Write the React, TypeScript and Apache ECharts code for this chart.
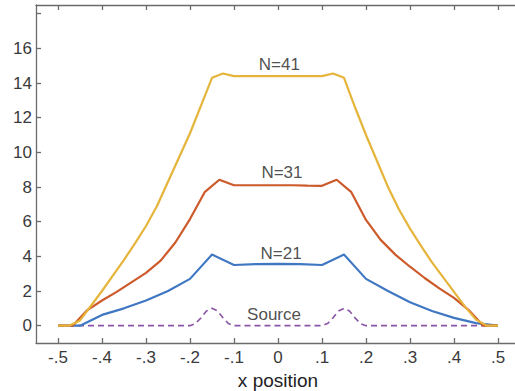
import React, { useEffect, useRef } from "react";
import * as echarts from "echarts";

// Tick values
const xTicks = [-0.5, -0.4, -0.3, -0.2, -0.1, 0, 0.1, 0.2, 0.3, 0.4, 0.5];
const yTicks = [0, 2, 4, 6, 8, 10, 12, 14, 16, 18];
const yLabels = [0, 2, 4, 6, 8, 10, 12, 14, 16];

// Series values, on uniform grids over [-0.5, 0.5]
const n21 = [0, 0, 0.62, 1.0, 1.45, 2.0, 2.7, 4.1, 3.5, 3.55, 3.57, 3.55, 3.5, 4.1, 2.7, 2.0, 1.35, 0.85, 0.45, 0.15, 0];
const n31 = [0, 0, 0.9, 1.45, 1.95, 2.5, 3.05, 3.75, 4.8, 6.15, 7.7, 8.42, 8.1, 8.1, 8.1, 8.1, 8.1, 8.08, 8.07, 8.42, 7.7, 6.1, 4.95, 4.1, 3.4, 2.75, 2.15, 1.6, 0.9, 0, 0];
const n41 = [0, 0, 0.3, 1.15, 2.0, 2.9, 3.8, 4.75, 5.75, 6.9, 8.3, 9.7, 11.1, 12.7, 14.3, 14.55, 14.4, 14.4, 14.4, 14.4, 14.4, 14.4, 14.4, 14.4, 14.4, 14.55, 14.3, 12.6, 11.0, 9.5, 8.0, 6.7, 5.6, 4.6, 3.65, 2.8, 1.95, 1.1, 0.35, 0, 0];
const sourceX = [-0.5, -0.2, -0.1875, -0.175, -0.1625, -0.15, -0.1375, -0.125, -0.1125, -0.1, 0.1, 0.1125, 0.125, 0.1375, 0.15, 0.1625, 0.175, 0.1875, 0.2, 0.5];
const sourceY = [0, 0, 0.12, 0.45, 0.85, 1.0, 0.85, 0.45, 0.12, 0, 0, 0.12, 0.45, 0.85, 1.0, 0.85, 0.45, 0.12, 0, 0];

// Curve annotations
const labelTexts = ["N=41", "N=31", "N=21", "Source"];
const labelX = [0.003, 0.009, 0.007, -0.009];
const labelY = [15.09, 8.81, 4.16, 0.64];

const colors = { n21: "#3f77c3", n31: "#cc5a2b", n41: "#e5b43a", src: "#8a55a6" };

const grid = (vals: number[]) => vals.map((v, i) => [-0.5 + i / (vals.length - 1), v]);

const fmtX = (v: number) => {
  if (Math.abs(v) < 1e-9) return "0";
  return (v < 0 ? "-" : "") + "." + Math.round(Math.abs(v) * 10);
};

const FONT = "'Liberation Sans', Arial, Helvetica, sans-serif";
const AXIS_COLOR = "#6b6b6b";

export default function App() {
  const ref = useRef<HTMLDivElement>(null);
  useEffect(() => {
    if (!ref.current) return;
    const chart = echarts.init(ref.current, undefined, { renderer: "svg" });
    const xCommon = {
      type: "value",
      min: -0.55,
      max: 0.55,
      splitLine: { show: false },
      axisLine: { show: true, onZero: false, lineStyle: { color: AXIS_COLOR, width: 1.3 } },
      axisTick: { show: true, inside: true, length: 5, customValues: xTicks, lineStyle: { color: AXIS_COLOR, width: 1.3 } },
    };
    const yCommon = {
      type: "value",
      min: -1,
      max: 18.5,
      splitLine: { show: false },
      axisLine: { show: true, onZero: false, lineStyle: { color: AXIS_COLOR, width: 1.3 } },
      axisTick: { show: true, inside: true, length: 5, customValues: yTicks, lineStyle: { color: AXIS_COLOR, width: 1.3 } },
    };
    chart.setOption({
      animation: false,
      textStyle: { fontFamily: FONT },
      grid: { left: 36, right: -5, top: 5, bottom: 48, containLabel: false, outerBoundsMode: "none" },
      xAxis: [
        {
          ...xCommon,
          position: "bottom",
          name: "x position",
          nameLocation: "middle",
          nameGap: 22,
          nameTextStyle: { fontSize: 19, color: "#222", fontFamily: FONT },
          axisLabel: { show: true, customValues: xTicks, formatter: fmtX, fontSize: 17, color: "#3a3a3a", margin: 6, fontFamily: FONT },
        },
        { ...xCommon, position: "top", axisLabel: { show: false } },
      ],
      yAxis: [
        {
          ...yCommon,
          position: "left",
          axisLabel: { show: true, customValues: yLabels, fontSize: 17, color: "#3a3a3a", margin: 4, fontFamily: FONT },
        },
        { ...yCommon, position: "right", axisLabel: { show: false } },
      ],
      series: [
        {
          name: "Source",
          type: "line",
          data: sourceX.map((x, i) => [x, sourceY[i]]),
          showSymbol: false,
          lineStyle: { color: colors.src, width: 1.6, type: [6, 4] },
          z: 2,
        },
        {
          name: "N=21",
          type: "line",
          data: grid(n21),
          showSymbol: false,
          lineStyle: { color: colors.n21, width: 2.2 },
          z: 3,
        },
        {
          name: "N=31",
          type: "line",
          data: grid(n31),
          showSymbol: false,
          lineStyle: { color: colors.n31, width: 2.2 },
          z: 4,
        },
        {
          name: "N=41",
          type: "line",
          data: grid(n41),
          showSymbol: false,
          lineStyle: { color: colors.n41, width: 2.2 },
          z: 5,
        },
        {
          name: "labels",
          type: "scatter",
          data: labelTexts.map((t, i) => ({ value: [labelX[i], labelY[i]], name: t })),
          symbolSize: 1,
          itemStyle: { color: "rgba(0,0,0,0)" },
          label: {
            show: true,
            position: "inside",
            formatter: (p: any) => p.name,
            fontSize: 17,
            color: "#222",
            fontFamily: FONT,
          },
          silent: true,
          z: 6,
        },
      ],
    });
    return () => chart.dispose();
  }, []);
  return (
    <div
      ref={ref}
      style={{ width: 515, height: 391, position: "absolute", left: 0, top: 0, overflow: "hidden", background: "#fff" }}
    />
  );
}
